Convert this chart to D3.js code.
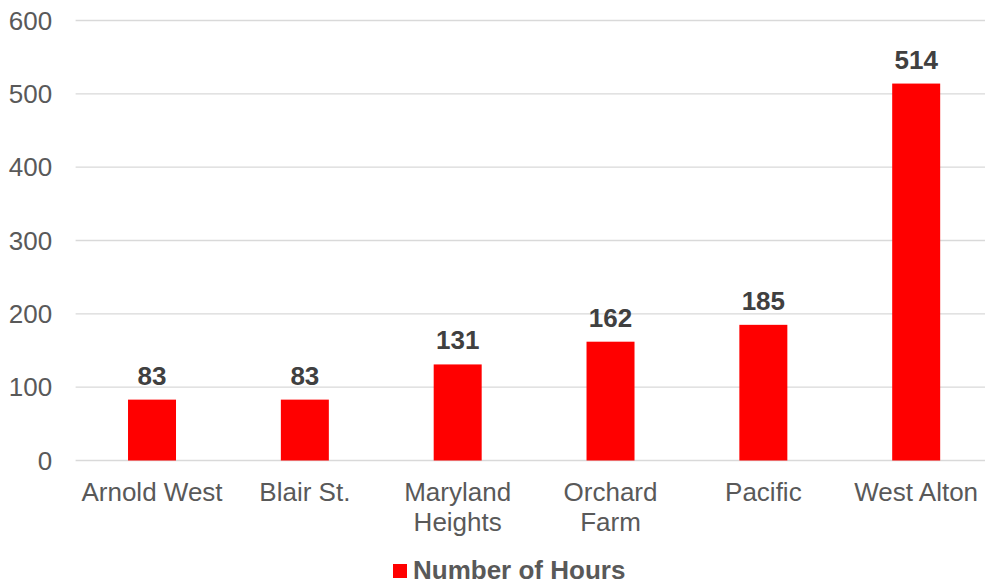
<!DOCTYPE html>
<html>
<head>
<meta charset="utf-8">
<script src="https://cdn.jsdelivr.net/npm/d3@7"></script>
<style>
  body { margin: 0; background: #fff; }
  text { font-family: "Liberation Sans", Arial, sans-serif; }
</style>
</head>
<body>
<svg id="chart" width="985" height="585"></svg>
<script>
var categories = [["Arnold West"], ["Blair St."], ["Maryland", "Heights"], ["Orchard", "Farm"], ["Pacific"], ["West Alton"]];
var hours = [83, 83, 131, 162, 185, 514];
var yTicks = [0, 100, 200, 300, 400, 500, 600];
var seriesName = "Number of Hours";

var svg = d3.select('#chart');
var margin = {left: 75.6, top: 20.5, bottom: 124.5};
var plotW = 917;
var height = 585 - margin.top - margin.bottom;

var g = svg.append('g').attr('transform', 'translate(' + margin.left + ',' + margin.top + ')');

var x = d3.scaleBand()
	.domain(d3.range(hours.length))
	.range([0, plotW])
	.paddingInner(0.686)
	.paddingOuter(0.343);

var y = d3.scaleLinear().domain([0, 600]).range([height, 0]);

// grid lines
g.selectAll('line.grid')
	.data(yTicks)
	.enter().append('line')
	.attr('class', 'grid')
	.attr('x1', 0)
	.attr('x2', 985 - margin.left)
	.attr('y1', function(d){ return y(d); })
	.attr('y2', function(d){ return y(d); })
	.attr('stroke', '#d9d9d9')
	.attr('stroke-width', 1.3);

// y axis labels
g.selectAll('text.ytick')
	.data(yTicks)
	.enter().append('text')
	.attr('class', 'ytick')
	.attr('x', -23.5)
	.attr('y', function(d){ return y(d); })
	.attr('dy', '0.35em')
	.attr('text-anchor', 'end')
	.attr('font-size', 26)
	.attr('fill', '#595959')
	.text(function(d){ return d; });

// bars
g.selectAll('rect.bar')
	.data(hours)
	.enter().append('rect')
	.attr('class', 'bar')
	.attr('x', function(d, i){ return x(i); })
	.attr('y', function(d){ return y(d); })
	.attr('width', x.bandwidth())
	.attr('height', function(d){ return height - y(d); })
	.attr('fill', '#ff0000');

// value labels
g.selectAll('text.val')
	.data(hours)
	.enter().append('text')
	.attr('class', 'val')
	.attr('x', function(d, i){ return x(i) + x.bandwidth() / 2; })
	.attr('y', function(d){ return y(d) - 15; })
	.attr('text-anchor', 'middle')
	.attr('font-size', 26)
	.attr('font-weight', 'bold')
	.attr('fill', '#404040')
	.text(function(d){ return d; });

// category labels
categories.forEach(function(lines, i){
	var t = g.append('text')
		.attr('x', x(i) + x.bandwidth() / 2)
		.attr('y', height + 40)
		.attr('text-anchor', 'middle')
		.attr('font-size', 26)
		.attr('fill', '#595959');
	lines.forEach(function(s, j){
		t.append('tspan')
			.attr('x', x(i) + x.bandwidth() / 2)
			.attr('dy', j === 0 ? 0 : 30)
			.text(s);
	});
});

// legend
var legend = svg.append('g').attr('transform', 'translate(393,564)');
legend.append('rect')
	.attr('x', 0).attr('y', 0)
	.attr('width', 14).attr('height', 14)
	.attr('fill', '#ff0000');
legend.append('text')
	.attr('x', 20)
	.attr('y', 15)
	.attr('font-size', 26)
	.attr('font-weight', 'bold')
	.attr('fill', '#595959')
	.text(seriesName);
</script>
</body>
</html>
